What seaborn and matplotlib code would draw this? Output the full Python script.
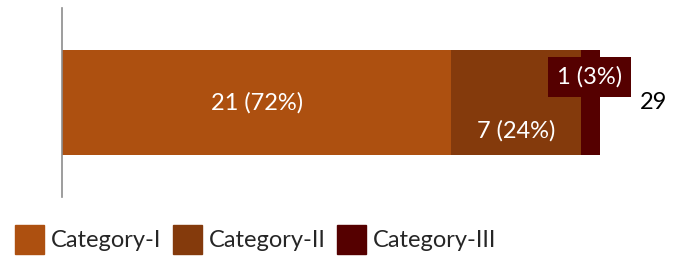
import matplotlib
matplotlib.use("Agg")
import matplotlib.pyplot as plt
import matplotlib.patches as mpatches
import seaborn as sns

# data
categories = ["Category-I", "Category-II", "Category-III"]
counts = [21, 7, 1]
colors = ["#AD5010", "#843A0C", "#550000"]
total = sum(counts)

sns.set_style("white")
plt.rcParams["font.family"] = ["Lato", "DejaVu Sans"]

fig = plt.figure(figsize=(6.8, 2.57), dpi=100)
ax = fig.add_axes([62 / 680, 60 / 257, 608 / 680, 189 / 257])

# stacked bars: draw cumulative totals from biggest to smallest
cum = [sum(counts[:i + 1]) for i in range(len(counts))]
for c, col in zip(cum[::-1], colors[::-1]):
    sns.barplot(x=[c], y=[""], orient="h", color=col, width=0.556,
                saturation=1, ax=ax, edgecolor="none")

ax.set_xlim(0, 32.8)
ax.set_ylim(0.5, -0.5)

# value labels
pct = [round(100 * v / total) for v in counts]
fs = 17
ax.text(counts[0] / 2, 0, f"{counts[0]} ({pct[0]}%)", color="white",
        ha="center", va="center", fontsize=fs)
ax.text(counts[0] + counts[1] / 2, 0.151, f"{counts[1]} ({pct[1]}%)",
        color="white", ha="center", va="center", fontsize=fs)
ax.text(28.46, -0.135, f"{counts[2]} ({pct[2]}%)", color="white",
        ha="center", va="center", fontsize=fs,
        bbox=dict(boxstyle="square,pad=0.38", fc=colors[2], ec="none"))
ax.text(31.2, 0.0, str(total), color="black", ha="left", va="center",
        fontsize=fs)

# axes look
for s in ["top", "right", "bottom"]:
    ax.spines[s].set_visible(False)
ax.spines["left"].set_color("#8c8c8c")
ax.spines["left"].set_linewidth(1.2)
ax.set_xticks([])
ax.set_yticks([])
ax.set_xlabel("")
ax.set_ylabel("")

# legend, one entry at a time so the spacing follows the reference
leg_x = [15, 173, 337]
for x0, c, l in zip(leg_x, colors, categories):
    fig.legend(handles=[mpatches.Patch(color=c, label=l)], loc="lower left",
               bbox_to_anchor=(x0 / 680, 3 / 257), frameon=False,
               fontsize=17, handlelength=1.23, handleheight=1.5,
               handletextpad=0.3, borderpad=0, borderaxespad=0)

fig.savefig("out.png", dpi=100)
